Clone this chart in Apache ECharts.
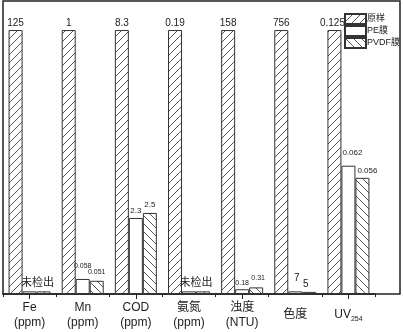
<!DOCTYPE html>
<html>
<head>
<meta charset="utf-8">
<script src="https://cdn.jsdelivr.net/npm/echarts@6/dist/echarts.min.js"></script>
<style>
  html, body { margin: 0; padding: 0; background: #fff; }
  #chart { width: 403px; height: 332px; }
</style>
</head>
<body>
<div id="chart"></div>
<script>
// 各指标（原样 = 1，条高为相对值）
var categories = ['Fe\n(ppm)', 'Mn\n(ppm)', 'COD\n(ppm)', '氨氮\n(ppm)', '浊度\n(NTU)', '色度', 'UV{sub|254}']
var rawHeight = [1, 1, 1, 1, 1, 1, 1]
var peHeight = [0.01, 0.057, 0.288, 0.01, 0.018, 0.01, 0.486]
var pvdfHeight = [0.01, 0.05, 0.307, 0.01, 0.025, 0.008, 0.44]
var rawLabels = ['125', '1', '8.3', '0.19', '158', '756', '0.125']
var peLabels = ['未检出', '0.058', '2.3', '未检出', '0.18', '7', '0.062']
var pvdfLabels = ['', '0.051', '2.5', '', '0.31', '5', '0.056']

var FONT = '"Liberation Sans", "Noto Sans CJK SC", sans-serif'

function hatch(dir) {
    var s = 8
    var c = document.createElement('canvas')
    c.width = s
    c.height = s
    var ctx = c.getContext('2d')
    ctx.fillStyle = '#fff'
    ctx.fillRect(0, 0, s, s)
    ctx.strokeStyle = '#444'
    ctx.lineWidth = 0.9
    ctx.beginPath()
    if (dir === '/') {
        ctx.moveTo(0, s); ctx.lineTo(s, 0)
        ctx.moveTo(-1, 1); ctx.lineTo(1, -1)
        ctx.moveTo(s - 1, s + 1); ctx.lineTo(s + 1, s - 1)
    } else {
        ctx.moveTo(0, 0); ctx.lineTo(s, s)
        ctx.moveTo(-1, s - 1); ctx.lineTo(1, s + 1)
        ctx.moveTo(s - 1, -1); ctx.lineTo(s + 1, 1)
    }
    ctx.stroke()
    return {image: c, repeat: 'repeat'}
}

// 标签微调（位置）
var rawTweak = [
    {offset: [0, 0], distance: 2, fontSize: 10},
    {offset: [0, 0], distance: 2, fontSize: 10},
    {offset: [0, 0], distance: 2, fontSize: 10},
    {offset: [0, 0], distance: 2, fontSize: 10},
    {offset: [0, 0], distance: 2, fontSize: 10},
    {offset: [0, 0], distance: 2, fontSize: 10},
    {offset: [-2, 0], distance: 2, fontSize: 10}
]
var peTweak = [
    {offset: [8, 0], distance: 3, fontSize: 11},
    {offset: [0, 0], distance: 9, fontSize: 7},
    {offset: [0, 0], distance: 3, fontSize: 8},
    {offset: [7, 0], distance: 3, fontSize: 11},
    {offset: [0, 0], distance: 3, fontSize: 7},
    {offset: [1.5, 0], distance: 8, fontSize: 10},
    {offset: [4, 0], distance: 9, fontSize: 8}
]
var pvdfTweak = [
    {offset: [0, 0], distance: 3, fontSize: 8},
    {offset: [0, 0], distance: 5, fontSize: 7},
    {offset: [0, 0], distance: 4, fontSize: 8},
    {offset: [0, 0], distance: 3, fontSize: 8},
    {offset: [2, 0], distance: 6, fontSize: 7},
    {offset: [-3.5, 0], distance: 3, fontSize: 10},
    {offset: [5, 0], distance: 3, fontSize: 8}
]

function buildData(heights, labels, tweaks) {
    return heights.map(function (v, i) {
        var t = tweaks[i]
        return {
            value: v,
            label: {
                show: labels[i] !== '',
                formatter: labels[i],
                offset: t.offset,
                distance: t.distance,
                fontSize: t.fontSize
            }
        }
    })
}

var chart = echarts.init(document.getElementById('chart'), null, {renderer: 'canvas'})

var barBase = {
    type: 'bar',
    xAxisIndex: 0,
    yAxisIndex: 0,
    barWidth: 14,
    barGap: '0%',
    z: 5,
    label: {position: 'top', color: '#222', fontFamily: FONT},
    emphasis: {disabled: true}
}

var option = {
    animation: false,
    backgroundColor: '#fff',
    grid: [
        {left: 3, right: 28, top: 1, bottom: 38},
        {left: 3, right: 3, top: 1, bottom: 38, show: true, borderColor: '#222', borderWidth: 1.5, backgroundColor: 'transparent'}
    ],
    legend: {
        orient: 'vertical',
        left: 344,
        top: 13,
        padding: 0,
        z: 3,
        itemWidth: 21,
        itemHeight: 10,
        itemGap: 0,
        icon: 'rect',
        textStyle: {fontSize: 9, lineHeight: 10.5, color: '#222', fontFamily: FONT, padding: [0, 0, 0, -4]},
        data: ['原样', 'PE膜', 'PVDF膜']
    },
    xAxis: [
        {
            type: 'category',
            gridIndex: 0,
            data: categories,
            axisLine: {show: true, lineStyle: {color: '#222', width: 1.5}},
            axisTick: {show: true, inside: false, length: 3, alignWithLabel: false, lineStyle: {color: '#222'}},
            axisLabel: {
                interval: 0,
                margin: 21,
                verticalAlign: 'middle',
                fontSize: 12,
                lineHeight: 15,
                color: '#222',
                fontFamily: FONT,
                rich: {
                    sub: {fontSize: 7, verticalAlign: 'bottom', lineHeight: 15, padding: [6, 0, 0, 0], color: '#222'}
                }
            }
        },
        {
            type: 'category',
            gridIndex: 0,
            position: 'bottom',
            data: categories,
            axisLine: {show: false},
            axisTick: {show: true, length: 5, alignWithLabel: true, lineStyle: {color: '#222'}},
            axisLabel: {show: false}
        },
        {type: 'value', gridIndex: 1, show: false}
    ],
    yAxis: [
        {
            type: 'value',
            gridIndex: 0,
            min: 0,
            max: 1.11,
            axisLine: {show: false},
            axisTick: {show: false},
            axisLabel: {show: false},
            splitLine: {show: false}
        },
        {type: 'value', gridIndex: 1, show: false}
    ],
    series: [
        Object.assign({}, barBase, {
            name: '原样',
            itemStyle: {color: hatch('/'), borderColor: '#333', borderWidth: 1},
            data: buildData(rawHeight, rawLabels, rawTweak)
        }),
        Object.assign({}, barBase, {
            name: 'PE膜',
            itemStyle: {color: '#fff', borderColor: '#333', borderWidth: 1},
            data: buildData(peHeight, peLabels, peTweak)
        }),
        Object.assign({}, barBase, {
            name: 'PVDF膜',
            itemStyle: {color: hatch('\\'), borderColor: '#333', borderWidth: 1},
            data: buildData(pvdfHeight, pvdfLabels, pvdfTweak)
        })
    ]
}

chart.setOption(option)
</script>
</body>
</html>
